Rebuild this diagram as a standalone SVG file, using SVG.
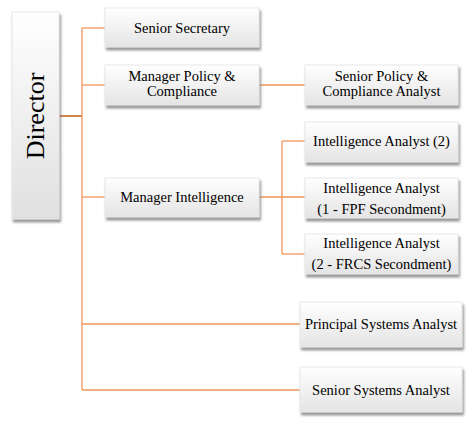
<svg xmlns="http://www.w3.org/2000/svg" width="470" height="424" viewBox="0 0 470 424">
<defs>
<linearGradient id="g" x1="0" y1="0" x2="0" y2="1">
<stop offset="0" stop-color="#ffffff"/>
<stop offset="1" stop-color="#e4e4e4"/>
</linearGradient>
<linearGradient id="gd" x1="0" y1="0" x2="0" y2="1">
<stop offset="0" stop-color="#ffffff"/>
<stop offset="1" stop-color="#e0e0e0"/>
</linearGradient>
<filter id="sh" x="-20%" y="-20%" width="140%" height="140%">
<feDropShadow dx="1.5" dy="3" stdDeviation="1" flood-color="#808080" flood-opacity="0.8"/>
</filter>
</defs>
<style>
.box{fill:url(#g);stroke:#e8e8e8;stroke-width:1;filter:url(#sh)}
.t{font-family:"Liberation Serif","Times New Roman",serif;font-size:14.5px;fill:#000;text-anchor:middle}
.c{fill:none;stroke:#F0945A;stroke-width:1.3}
.cd{fill:none;stroke:#C9621E;stroke-width:1.6}
</style>
<rect width="470" height="424" fill="#ffffff"/>
<g id="connectors">
<path class="cd" d="M59 116 H82"/>
<path class="c" d="M82 28 V390"/>
<path class="c" d="M82 28 H105"/>
<path class="c" d="M82 85 H105"/>
<path class="c" d="M82 197 H105"/>
<path class="c" d="M82 324 H300"/>
<path class="c" d="M82 390 H300"/>
<path class="c" d="M259 85 H305"/>
<path class="c" d="M259 197 H305"/>
<path class="c" d="M282 141 V254"/>
<path class="c" d="M282 141 H305"/>
<path class="c" d="M282 254 H305"/>
</g>
<g id="director">
<rect class="box" x="12" y="12" width="47" height="207" style="fill:url(#gd)"/>
<text class="t" transform="translate(43.5 116) rotate(-90)" style="font-size:26px">Director</text>
</g>
<g id="senior-secretary">
<rect class="box" x="105" y="8" width="154" height="39"/>
<text class="t" x="182" y="33">Senior Secretary</text>
</g>
<g id="manager-policy">
<rect class="box" x="105" y="65" width="154" height="40"/>
<text class="t" x="182" y="81">Manager Policy &amp;</text>
<text class="t" x="182" y="96">Compliance</text>
</g>
<g id="manager-intelligence">
<rect class="box" x="105" y="178" width="154" height="39"/>
<text class="t" x="182" y="202">Manager Intelligence</text>
</g>
<g id="senior-policy-analyst">
<rect class="box" x="305" y="65" width="153" height="40"/>
<text class="t" x="381.5" y="81">Senior Policy &amp;</text>
<text class="t" x="381.5" y="96">Compliance Analyst</text>
</g>
<g id="intelligence-analyst-2">
<rect class="box" x="305" y="122" width="153" height="40"/>
<text class="t" x="381.5" y="146">Intelligence Analyst (2)</text>
</g>
<g id="intelligence-analyst-fpf">
<rect class="box" x="305" y="178" width="153" height="40"/>
<text class="t" x="381.5" y="193">Intelligence Analyst</text>
<text class="t" x="381.5" y="214">(1 - FPF Secondment)</text>
</g>
<g id="intelligence-analyst-frcs">
<rect class="box" x="305" y="234" width="153" height="40"/>
<text class="t" x="381.5" y="248">Intelligence Analyst</text>
<text class="t" x="381.5" y="269">(2 - FRCS Secondment)</text>
</g>
<g id="principal-systems-analyst">
<rect class="box" x="300" y="302" width="162" height="45"/>
<text class="t" x="381" y="329">Principal Systems Analyst</text>
</g>
<g id="senior-systems-analyst">
<rect class="box" x="300" y="367" width="162" height="45"/>
<text class="t" x="381" y="395">Senior Systems Analyst</text>
</g>
</svg>
